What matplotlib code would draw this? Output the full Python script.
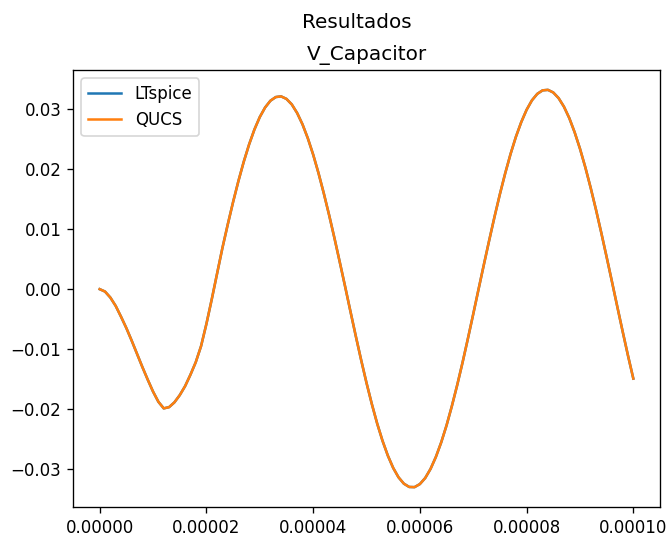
import matplotlib
matplotlib.use("Agg")
import matplotlib.pyplot as plt
from matplotlib.ticker import StrMethodFormatter

# time samples (microseconds)
time_us = list(range(0, 101))

# capacitor voltage (V)
v_ltspice = [
    0.0000, -0.0004, -0.0014, -0.0028, -0.0046, -0.0065, -0.0086, -0.0108, -0.0130, -0.0151,
    -0.0171, -0.0188, -0.0199, -0.0197, -0.0189, -0.0177, -0.0162, -0.0143, -0.0122, -0.0095,
    -0.0058, -0.0017, 0.0026, 0.00688, 0.01080, 0.01455, 0.01806, 0.02128, 0.02416, 0.02666,
    0.02873, 0.03033, 0.03146, 0.03207, 0.03218, 0.03176, 0.03084, 0.02941, 0.02753, 0.02520,
    0.02248, 0.01939, 0.01599, 0.01235, 0.00850, 0.00448, 0.00041, -0.00375, -0.00786, -0.01184,
    -0.01564, -0.01918, -0.02243, -0.02531, -0.02779, -0.02984, -0.03141, -0.03247, -0.03302, -0.03305,
    -0.03254, -0.03153, -0.03001, -0.02801, -0.02558, -0.02274, -0.01951, -0.01600, -0.01224, -0.00826,
    -0.00417, 0.00000, 0.00412, 0.00818, 0.01212, 0.01587, 0.01937, 0.02258, 0.02544, 0.02789,
    0.02994, 0.03152, 0.03260, 0.03319, 0.03327, 0.03283, 0.03189, 0.03046, 0.02856, 0.02620,
    0.02346, 0.02036, 0.01695, 0.01328, 0.00940, 0.00536, 0.00124, -0.00293, -0.00706, -0.01108,
    -0.01493,
]
v_qucs = list(v_ltspice)

series_labels = ["LTspice", "QUCS"]

time_s = [t * 1e-6 for t in time_us]

W, H, DPI = 669, 535, 120
fig = plt.figure(figsize=(W / DPI, H / DPI), dpi=DPI)
ax = fig.add_axes([73 / W, 28 / H, 587 / W, 437 / H])
ax.plot(time_s, v_ltspice, label=series_labels[0], color="C0")
ax.plot(time_s, v_qucs, label=series_labels[1], color="C1")
ax.xaxis.set_major_formatter(StrMethodFormatter("{x:.5f}"))
ax.set_title("V_Capacitor")
fig.suptitle("Resultados", x=357 / W, y=(H - 22) / H, va="center")
ax.legend(loc="upper left")
fig.savefig("out.png", dpi=DPI)
